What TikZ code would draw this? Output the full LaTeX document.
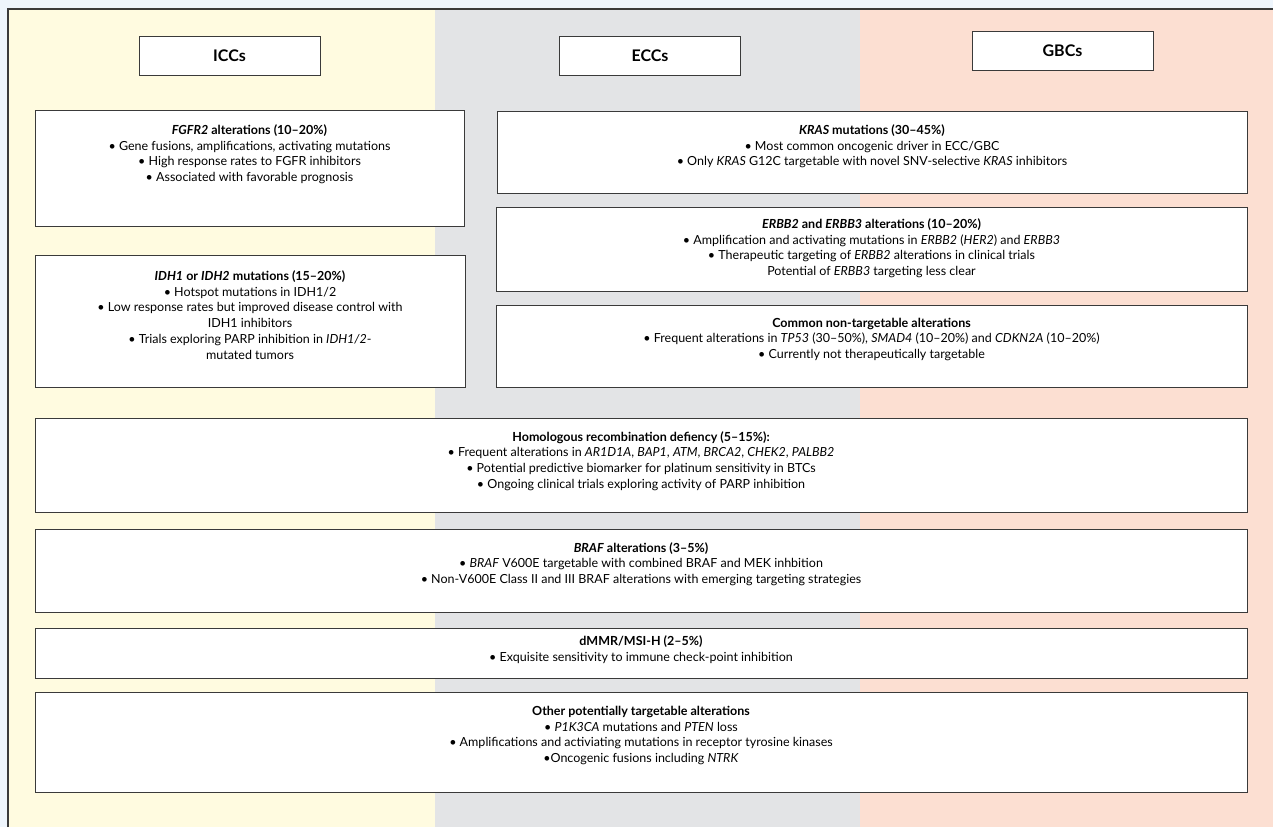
\documentclass[tikz,border=0pt]{standalone}
\usepackage{fontspec}
\setmainfont{Lato}
\definecolor{outbg}{HTML}{EEF5FC}
\definecolor{colA}{HTML}{FFFBE0}
\definecolor{colB}{HTML}{E3E4E6}
\definecolor{colC}{HTML}{FCDFD2}
\definecolor{boxline}{HTML}{3A3A3A}
\begin{document}
\begin{tikzpicture}[x=1pt,y=-1pt,
  box/.style={draw=boxline, line width=0.9pt, fill=white, inner sep=0pt},
  txt/.style={align=center, font=\fontsize{12.5}{15.7}\selectfont, inner sep=0pt, anchor=north, text=black},
  hdr/.style={draw=boxline, fill=white, line width=1pt, font=\fontsize{16}{18}\selectfont\bfseries, minimum width=181pt, minimum height=39pt, inner sep=0pt}]
\useasboundingbox (0,0) rectangle (1273,827);
% backgrounds
\fill[outbg] (0,0) rectangle (1273,827);
\fill[colA] (8,9) rectangle (435,827);
\fill[colB] (435,9) rectangle (860,827);
\fill[colC] (860,9) rectangle (1273,827);
\draw[boxline, line width=1.2pt] (8,827) -- (8,9) -- (1273,9);
% headers
\node[hdr] (icc) at (229.5,55.5) {ICCs};
\node[hdr] (ecc) at (650,56) {ECCs};
\node[hdr] (gbc) at (1062.5,50.5) {GBCs};
% boxes
\node[box, minimum width=429pt, minimum height=116pt] (fgfr) at (249.5,168) {};
\node[box, minimum width=430pt, minimum height=132pt] (idh) at (250,321) {};
\node[box, minimum width=750pt, minimum height=82pt] (kras) at (872,152) {};
\node[box, minimum width=751pt, minimum height=84pt] (erbb) at (871.5,249) {};
\node[box, minimum width=751pt, minimum height=82pt] (comm) at (871.5,346) {};
\node[box, minimum width=1212pt, minimum height=94pt] (hr) at (641,465) {};
\node[box, minimum width=1212pt, minimum height=83pt] (braf) at (641,570.5) {};
\node[box, minimum width=1212pt, minimum height=50pt] (dmmr) at (641,653) {};
\node[box, minimum width=1212pt, minimum height=100pt] (oth) at (641,742) {};
% texts
\node[txt] (fgfrT) at ([yshift=-15pt]fgfr.north) {\textbf{\textit{FGFR2} alterations (10–20\%)}\\
• Gene fusions, amplifications, activating mutations\\
• High response rates to FGFR inhibitors\\
• Associated with favorable prognosis};
\node[txt] (idhT) at ([yshift=-16pt]idh.north) {\textbf{\textit{IDH1} or \textit{IDH2} mutations (15–20\%)}\\
• Hotspot mutations in IDH1/2\\
• Low response rates but improved disease control with\\
IDH1 inhibitors\\
• Trials exploring PARP inhibition in \textit{IDH1/2}-\\
mutated tumors};
\node[txt] (krasT) at ([yshift=-14pt]kras.north) {\textbf{\textit{KRAS} mutations (30–45\%)}\\
• Most common oncogenic driver in ECC/GBC\\
• Only \textit{KRAS} G12C targetable with novel SNV-selective \textit{KRAS} inhibitors};
\node[txt] (erbbT) at ([yshift=-12pt]erbb.north) {\textbf{\textit{ERBB2} and \textit{ERBB3} alterations (10–20\%)}\\
• Amplification and activating mutations in \textit{ERBB2} (\textit{HER2}) and \textit{ERBB3}\\
• Therapeutic targeting of \textit{ERBB2} alterations in clinical trials\\
Potential of \textit{ERBB3} targeting less clear};
\node[txt] (commT) at ([yshift=-13pt]comm.north) {\textbf{Common non-targetable alterations}\\
• Frequent alterations in \textit{TP53} (30–50\%), \textit{SMAD4} (10–20\%) and \textit{CDKN2A} (10–20\%)\\
• Currently not therapeutically targetable};
\node[txt] (hrT) at ([yshift=-13.5pt]hr.north) {\textbf{Homologous recombination defiency (5–15\%):}\\
• Frequent alterations in \textit{AR1D1A}, \textit{BAP1}, \textit{ATM}, \textit{BRCA2}, \textit{CHEK2}, \textit{PALBB2}\\
• Potential predictive biomarker for platinum sensitivity in BTCs\\
• Ongoing clinical trials exploring activity of PARP inhibition};
\node[txt] (brafT) at ([yshift=-13.5pt]braf.north) {\textbf{\textit{BRAF} alterations (3–5\%)}\\
• \textit{BRAF} V600E targetable with combined BRAF and MEK inhbition\\
• Non-V600E Class II and III BRAF alterations with emerging targeting strategies};
\node[txt] (dmmrT) at ([yshift=-8pt]dmmr.north) {\textbf{dMMR/MSI-H (2–5\%)}\\
• Exquisite sensitivity to immune check-point inhibition};
\node[txt] (othT) at ([yshift=-14.5pt]oth.north) {\textbf{Other potentially targetable alterations}\\
• \textit{P1K3CA} mutations and \textit{PTEN} loss\\
• Amplifications and activiating mutations in receptor tyrosine kinases\\
•Oncogenic fusions including \textit{NTRK}};
\end{tikzpicture}
\end{document}
